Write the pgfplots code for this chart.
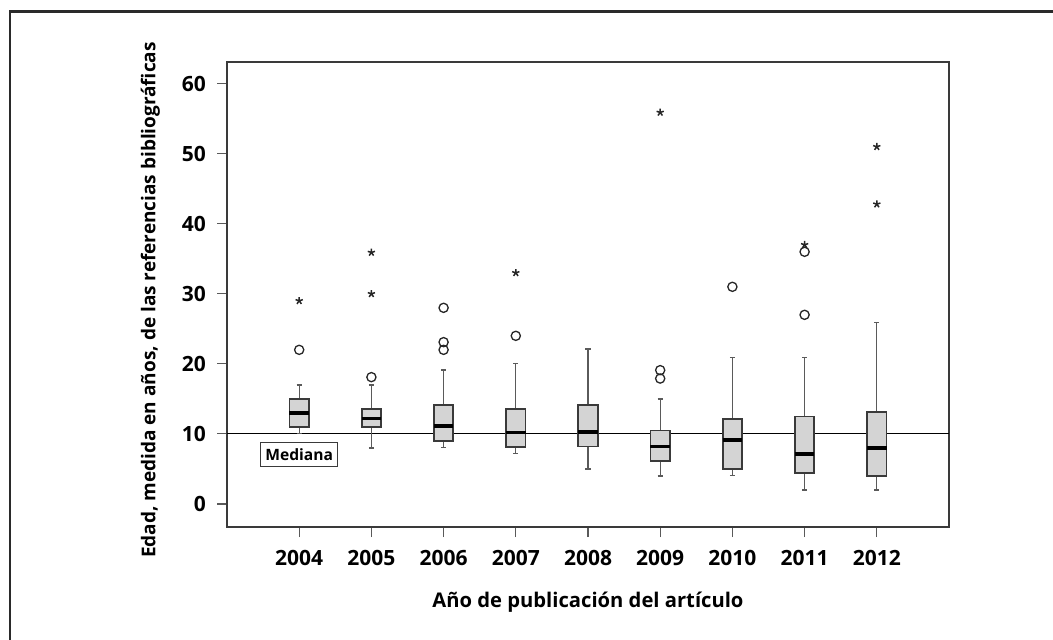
\documentclass[border=0pt]{standalone}
\usepackage{fontspec}
\setmainfont{Open Sans}
\usepackage{pgfplots}
\pgfplotsset{compat=1.18}
\usepgfplotslibrary{statistics}
\definecolor{boxfill}{HTML}{D4D4D4}
\definecolor{boxedge}{HTML}{3A3A3A}
\definecolor{axgray}{HTML}{5A5A5A}
\definecolor{framec}{HTML}{2A2A2A}

\begin{document}
\begin{tikzpicture}[x=1pt,y=1pt]
\useasboundingbox (0,0) rectangle (526.5,319.5);
\begin{axis}[
  at={(113.5pt,56pt)}, anchor=south west,
  scale only axis, width=361pt, height=232.5pt,
  xmin=-1, xmax=9, ymin=-3.3, ymax=63.1,
  xtick={0,1,2,3,4,5,6,7,8},
  xticklabels={2004,2005,2006,2007,2008,2009,2010,2011,2012},
  ytick={0,10,20,30,40,50,60},
  tick align=outside, tick pos=left,
  major tick length=5pt,
  tick style={draw=axgray, line width=0.6pt},
  axis line style={draw=boxedge, line width=0.7pt},
  /pgf/number format/assume math mode=true,
  ticklabel style={font=\bfseries\fontsize{10.5}{12}\selectfont},
  xticklabel style={yshift=-3pt},
  yticklabel style={xshift=-2pt},
  label style={font=\bfseries\fontsize{9.5}{11}\selectfont},
  xlabel={Año de publicación del artículo},
  ylabel={Edad, medida en años, de las referencias bibliográficas},
  xlabel style={at={(axis description cs:0.5,-0.161)},anchor=center,font=\bfseries\fontsize{10.1}{12}\selectfont},
  ylabel style={at={(axis description cs:-0.106,0.488)},anchor=center},
  boxplot/draw direction=y,
  boxplot/box extend=0.27,
  boxplot/whisker extend=0.07,
  boxplot/every box/.style={draw=boxedge, fill=boxfill, line width=0.85pt},
  boxplot/every whisker/.style={draw=axgray, line width=0.65pt},
  boxplot/every median/.style={draw=black, line width=1.8pt},
]
\addplot[black, line width=0.55pt, forget plot] coordinates {(-1,10) (9,10)};

\addplot[boxplot prepared={lower whisker=10.1, lower quartile=11, median=13, upper quartile=15, upper whisker=17, draw position=0}] coordinates {};
\addplot[boxplot prepared={lower whisker=8, lower quartile=11, median=12.2, upper quartile=13.6, upper whisker=17, draw position=1}] coordinates {};
\addplot[boxplot prepared={lower whisker=8.1, lower quartile=9, median=11.1, upper quartile=14.1, upper whisker=19.1, draw position=2}] coordinates {};
\addplot[boxplot prepared={lower whisker=7.2, lower quartile=8.1, median=10.2, upper quartile=13.6, upper whisker=20, draw position=3}] coordinates {};
\addplot[boxplot prepared={lower whisker=5, lower quartile=8.2, median=10.3, upper quartile=14.1, upper whisker=22.1, draw position=4}] coordinates {};
\addplot[boxplot prepared={lower whisker=4, lower quartile=6.1, median=8.2, upper quartile=10.5, upper whisker=15, draw position=5}] coordinates {};
\addplot[boxplot prepared={lower whisker=4.1, lower quartile=5, median=9.1, upper quartile=12.1, upper whisker=20.9, draw position=6}] coordinates {};
\addplot[boxplot prepared={lower whisker=2, lower quartile=4.4, median=7.1, upper quartile=12.5, upper whisker=20.9, draw position=7}] coordinates {};
\addplot[boxplot prepared={lower whisker=2, lower quartile=4, median=8, upper quartile=13.1, upper whisker=25.9, draw position=8}] coordinates {};

% outliers (circles)
\addplot[only marks, mark=o, mark size=2.3pt, mark options={line width=0.65pt, draw=black!85}] coordinates {
(0,22) (1,18.1) (2,22) (2,23.1) (2,28) (3,24) (5,17.9) (5,19.1) (6,31) (7,27) (7,36)};
% extreme outliers (stars)
\addplot[only marks, mark=star, mark size=1.9pt, mark options={line width=0.75pt, draw=black!85}] coordinates {
(0,29) (1,30) (1,35.9) (3,33) (5,55.9) (7,37) (8,51) (8,42.8)};

\node[draw=boxedge, fill=white, line width=0.55pt, font=\bfseries\fontsize{7.8}{9}\selectfont, minimum width=38.5pt, minimum height=12pt, inner sep=0pt] at (axis cs:0,7.1) {Mediana};
\end{axis}
\draw[framec, line width=1.25pt] (5,-10) -- (5,313.75) -- (540,313.75);
\end{tikzpicture}
\end{document}
